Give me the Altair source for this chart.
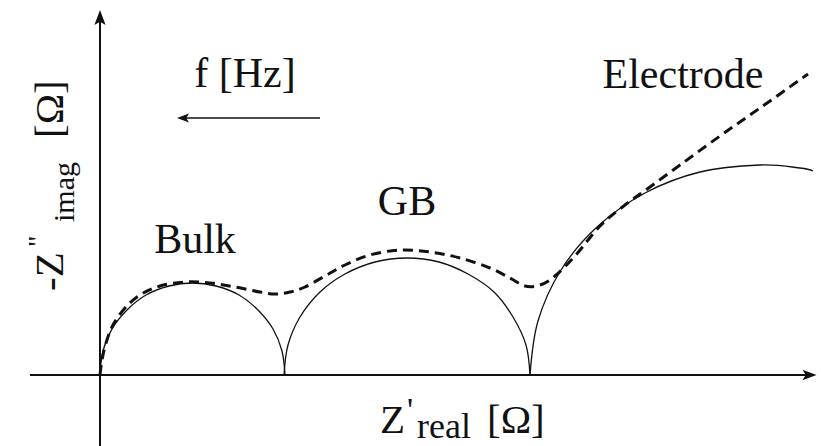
import altair as alt
import pandas as pd

# Impedance spectrum sketch (Nyquist plot), arbitrary Ω units.
# Bulk semicircle
bulk_re = [0, 3, 12, 27, 46, 69, 92, 116, 139, 158, 173, 182, 185]
bulk_im = [0, 24, 46, 65, 80, 89, 92, 89, 80, 65, 46, 24, 0]
# Grain-boundary semicircle
gb_re = [184, 188, 200, 220, 245, 275, 307, 339, 368, 394, 413, 426, 430]
gb_im = [0, 30, 58, 83, 101, 113, 117, 113, 101, 83, 58, 30, 0]
# Electrode arc
el_re = [430, 438, 461, 497, 545, 600, 660, 700, 713]
el_im = [0, 54, 105, 148, 182, 203, 210, 207, 204]
# Total response (dashed)
tot_re = [0, 2, 6, 13, 25, 40, 60, 85, 110, 135, 160, 175, 190, 205, 225, 245,
          270, 300, 330, 360, 390, 410, 425, 440, 455, 475, 500, 525, 550, 580,
          620, 660, 708]
tot_im = [0, 15, 32, 50, 67, 80, 89, 93, 92, 88, 83, 81, 83, 88, 99, 110,
          120, 125, 123, 117, 107, 97, 89, 90, 99, 119, 149, 170, 188, 210,
          239, 267, 301]

FONT = "Liberation Serif"
INK = "#111111"

X = alt.Scale(domain=[-100, 721], nice=False, zero=False)
Y = alt.Scale(domain=[-71, 375], nice=False, zero=False)


def curve(re, im, part):
    return pd.DataFrame({"re": re, "im": im, "i": list(range(len(re))), "part": part})


arcs = pd.concat([
    curve(bulk_re, bulk_im, "Bulk"),
    curve(gb_re, gb_im, "GB"),
    curve(el_re, el_im, "Electrode"),
], ignore_index=True)
total = curve(tot_re, tot_im, "Total")

arc_layer = alt.Chart(arcs).mark_line(
    color=INK, strokeWidth=1.3, interpolate="cardinal"
).encode(
    x=alt.X("re:Q", scale=X, axis=None),
    y=alt.Y("im:Q", scale=Y, axis=None),
    detail="part:N",
    order="i:Q",
)

total_layer = alt.Chart(total).mark_line(
    color=INK, strokeWidth=3, strokeDash=[10, 6], interpolate="cardinal"
).encode(
    x=alt.X("re:Q", scale=X, axis=None),
    y=alt.Y("im:Q", scale=Y, axis=None),
    order="i:Q",
)

# Axis lines and the frequency arrow shaft
lines = pd.DataFrame({
    "x": [-70, 0, 220],
    "y": [0, -75, 257],
    "x2": [712, 0, 85],
    "y2": [0, 358, 257],
    "w": [2.0, 2.0, 1.5],
})
line_layer = alt.Chart(lines).mark_rule(color=INK).encode(
    x=alt.X("x:Q", scale=X, axis=None),
    y=alt.Y("y:Q", scale=Y, axis=None),
    x2="x2:Q",
    y2="y2:Q",
    strokeWidth=alt.StrokeWidth("w:Q", scale=None),
)

UP = "M0,-1L0.75,1L0,0.55L-0.75,1Z"
RIGHT = "M1,0L-1,-0.75L-0.55,0L-1,0.75Z"
LEFT = "M-1,0L1,-0.75L0.55,0L1,0.75Z"


def head(x, y, shape, size):
    return alt.Chart(pd.DataFrame({"x": [x], "y": [y]})).mark_point(
        shape=shape, size=size, filled=True, color=INK, opacity=1
    ).encode(
        x=alt.X("x:Q", scale=X, axis=None),
        y=alt.Y("y:Q", scale=Y, axis=None),
    )


heads = head(0, 357.5, UP, 225) + head(709.5, 0, RIGHT, 196) + head(83, 257, LEFT, 144)

# Centered labels
labels = pd.DataFrame({
    "label": ["f [Hz]", "Electrode", "GB", "Bulk"],
    "x": [145, 583, 307, 95],
    "y": [288, 287, 160, 122],
})
label_layer = alt.Chart(labels).mark_text(
    font=FONT, fontSize=42, color=INK, align="center", baseline="alphabetic"
).encode(
    x=alt.X("x:Q", scale=X, axis=None),
    y=alt.Y("y:Q", scale=Y, axis=None),
    text=alt.Text("label:N"),
)

# Axis titles assembled from pieces (sub/superscripts);
# rotated pieces are anchored at their baseline and start point
titles = pd.DataFrame({
    "label": ["Z", "'", "real", "[Ω]", "-Z", '"', "imag", "[Ω]"],
    "x": [280, 307, 317, 387, -37, -53, -26, -37],
    "y": [-58, -46, -63, -58, 84, 128, 153, 237],
    "size": [41, 34, 36, 41, 41, 28, 30, 41],
    "angle": [0, 0, 0, 0, 270, 270, 270, 270],
})
title_layer = alt.Chart(titles).mark_text(
    font=FONT, color=INK, align="left", baseline="alphabetic"
).encode(
    x=alt.X("x:Q", scale=X, axis=None),
    y=alt.Y("y:Q", scale=Y, axis=None),
    text=alt.Text("label:N"),
    size=alt.Size("size:Q", scale=None),
    angle=alt.Angle("angle:Q", scale=None),
)

chart = alt.layer(
    line_layer, heads, arc_layer, total_layer, label_layer, title_layer
).properties(
    width=821, height=446, autosize=alt.AutoSizeParams(type="none"), padding=0
).configure_view(stroke=None).configure_text(font=FONT)

chart.save("out.html", embed_options={"renderer": "svg", "actions": False})
